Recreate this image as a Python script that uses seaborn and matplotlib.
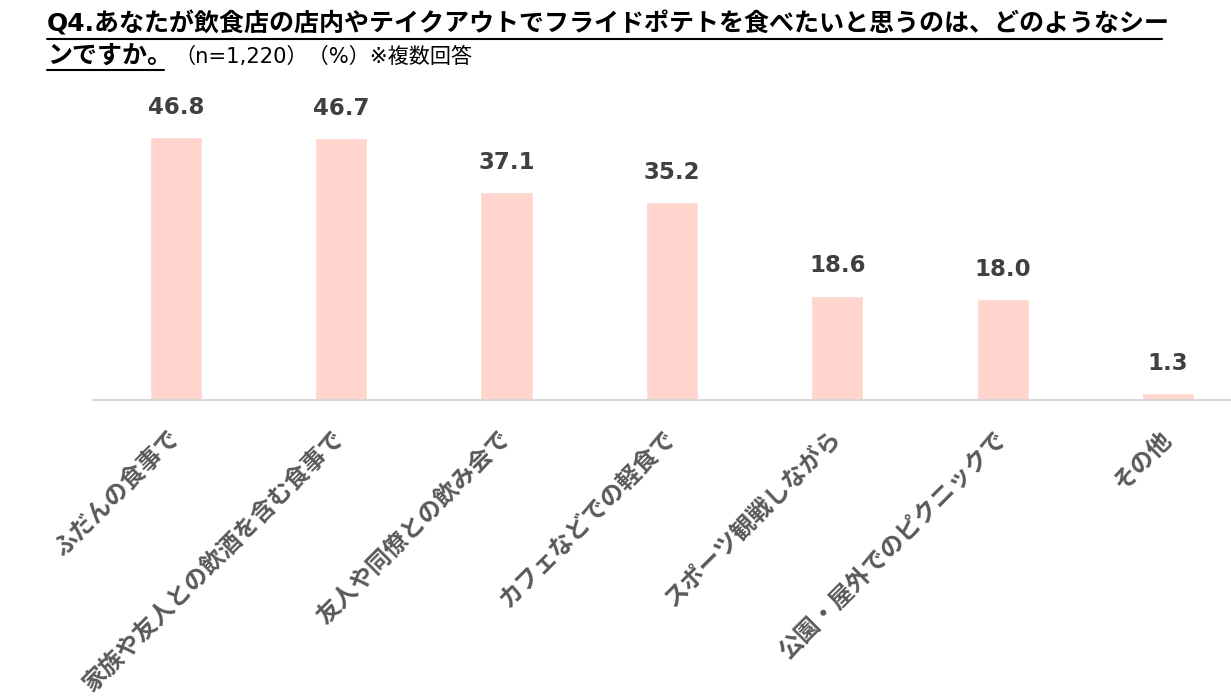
import matplotlib
matplotlib.use("Agg")
import matplotlib.pyplot as plt
from matplotlib.lines import Line2D
import seaborn as sns

# データ
scenes = ["ふだんの食事で", "家族や友人との飲酒を含む食事で", "友人や同僚との飲み会で",
          "カフェなどでの軽食で", "スポーツ観戦しながら", "公園・屋外でのピクニックで", "その他"]
values = [46.8, 46.7, 37.1, 35.2, 18.6, 18.0, 1.3]

title_line1 = "Q4.あなたが飲食店の店内やテイクアウトでフライドポテトを食べたいと思うのは、どのようなシー"
title_line2 = "ンですか。"
subtitle = "（n=1,220）（%）※複数回答"

sns.set_style("white")
plt.rcParams['font.family'] = ['Noto Sans CJK JP', 'DejaVu Sans']

W, H = 1231, 700
fig = plt.figure(figsize=(W / 100, H / 100), dpi=100)
ax = fig.add_axes([93 / W, 1 - 400 / H, 1 - 93 / W, 292 / H])

sns.barplot(x=scenes, y=values, color="#FFD5CE", saturation=1, width=0.315, ax=ax)
ax.set_xlim(-0.5, 6.38)
ax.set_ylim(0, 52)

# 値ラベル
ax.bar_label(ax.containers[0], fmt="%.1f", padding=13, fontsize=16.5, fontweight="bold",
             color="#404040", family=["DejaVu Sans", "Noto Sans CJK JP"])

# 軸
for s in ["top", "right", "left"]:
    ax.spines[s].set_visible(False)
ax.spines["bottom"].set_color("#D9D9D9")
ax.spines["bottom"].set_linewidth(1.5)
ax.set_yticks([])
ax.set_xlabel("")
ax.set_ylabel("")
ax.tick_params(axis="x", length=0, pad=25)
for lab in ax.get_xticklabels():
    lab.set_rotation(45)
    lab.set_ha("right")
    lab.set_va("center")
    lab.set_rotation_mode("anchor")
    lab.set_fontsize(17.2)
    lab.set_fontweight("bold")
    lab.set_color("#595959")

# タイトル（下線付き）
t1 = fig.text(47 / W, 1 - 24 / H, title_line1, fontsize=18, fontweight="bold", color="black",
              va="center", ha="left", family=["DejaVu Sans", "Noto Sans CJK JP"])
t2 = fig.text(47 / W, 1 - 57 / H, title_line2, fontsize=18, fontweight="bold", color="black",
              va="center", ha="left", family=["DejaVu Sans", "Noto Sans CJK JP"])
fig.canvas.draw()
r = fig.canvas.get_renderer()
inv = fig.transFigure.inverted()
for t, y in [(t1, 39), (t2, 70)]:
    bb = t.get_window_extent(r)
    x0, _ = inv.transform((bb.x0, 0))
    x1, _ = inv.transform((bb.x1 - 8, 0))
    fig.add_artist(Line2D([x0, x1], [1 - y / H, 1 - y / H], color="black", lw=1.5))
bb2 = t2.get_window_extent(r)
xs, _ = inv.transform((bb2.x1 + 2, 0))
fig.text(xs, 1 - 57 / H, subtitle, fontsize=15.2, color="black", va="center", ha="left",
         family=["DejaVu Sans", "Noto Sans CJK JP"])

fig.savefig("out.png", dpi=100)
